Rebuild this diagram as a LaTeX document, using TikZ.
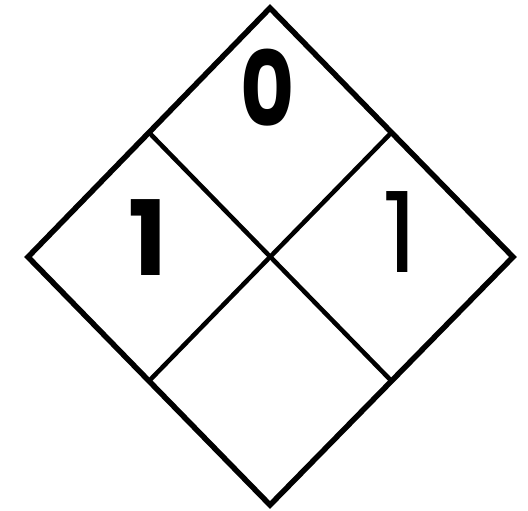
\documentclass[tikz,border=0pt]{standalone}
\usepackage{fontspec}
\usepackage{tikz}
\usetikzlibrary{calc}
\newfontfamily\ratingbold{Poppins Bold}
\newfontfamily\ratingthin{Poppins}
\tikzset{
  outline/.style={draw=black, line width=5.5pt, line join=miter},
  divider/.style={draw=black, line width=4.5pt},
  rating/.style={font=\ratingbold\fontsize{104}{104}\selectfont, inner sep=0pt, anchor=center},
  special/.style={font=\ratingthin\fontsize{112}{112}\selectfont, inner sep=0pt, anchor=center}
}

\begin{document}
\begin{tikzpicture}[x=1pt, y=-1pt]
  \useasboundingbox (0,0) rectangle (528,511);

  \coordinate (top) at (270,8);
  \coordinate (left) at (28,257);
  \coordinate (right) at (513,257);
  \coordinate (bottom) at (270,505);

  \coordinate (tl) at ($(top)!0.5!(left)$);
  \coordinate (tr) at ($(top)!0.5!(right)$);
  \coordinate (bl) at ($(bottom)!0.5!(left)$);
  \coordinate (br) at ($(bottom)!0.5!(right)$);

  \draw[divider] (tl) -- (br);
  \draw[divider] (tr) -- (bl);
  \draw[outline] (top) -- (right) -- (bottom) -- (left) -- cycle;

  \node[rating, xscale=0.8] (health) at (268,88) {0};
  \node[rating] (flammability) at (148,238) {1};
  \node[special] (reactivity) at (400,232) {1};
\end{tikzpicture}
\end{document}
